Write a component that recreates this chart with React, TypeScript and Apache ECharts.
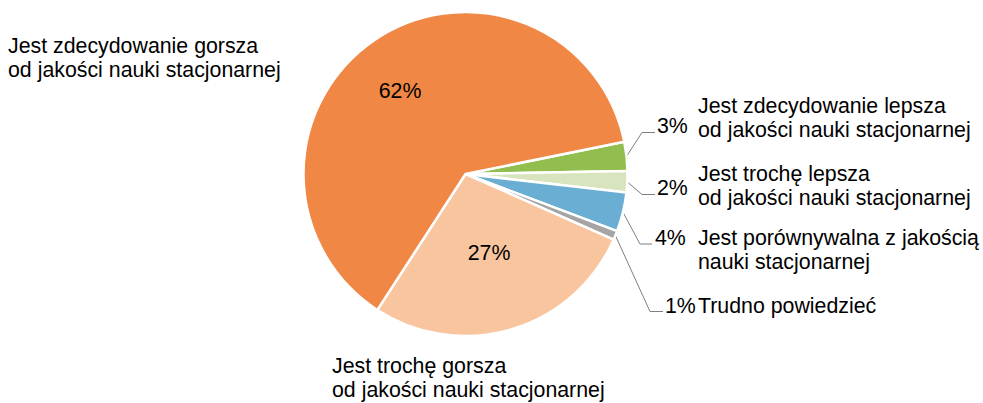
import { useEffect, useRef } from "react";
import * as echarts from "echarts";

// ---- data ----
const categories = [
  "Jest zdecydowanie lepsza\nod jakości nauki stacjonarnej",
  "Jest trochę lepsza\nod jakości nauki stacjonarnej",
  "Jest porównywalna z jakością\nnauki stacjonarnej",
  "Trudno powiedzieć",
  "Jest trochę gorsza\nod jakości nauki stacjonarnej",
  "Jest zdecydowanie gorsza\nod jakości nauki stacjonarnej",
];
const values = [2.9, 2.1, 3.9, 0.9, 27.4, 62.4];

// ---- styles / layout ----
const colors = ["#92BE50", "#D7E4BD", "#6AAED3", "#A5A5A5", "#F9C59F", "#F08744"];
const FONT = "'Liberation Sans', Arial, sans-serif";
const FONT_SIZE = 21.33;
// percentage label anchor: [x, y]  (left/middle for outside, center/middle for inside)
const pctPos = [
  [657, 126],
  [657, 188],
  [655, 238],
  [665, 305.5],
  [489, 252.5],
  [400, 91],
];
// leader line: [elbowX, y, endX]
const leaderPos = [
  [642, 132.5, 655],
  [642, 194.5, 655],
  [640, 244, 652],
  [650, 311.5, 663],
];
// category name text: [left x, vertical middle]
const namePos = [
  [698, 117.5],
  [698, 186],
  [698, 249.5],
  [698, 305.5],
  [332, 378],
  [8, 58],
];
const insideIdx = [4, 5];

export default function App() {
  const ref = useRef<HTMLDivElement>(null);

  useEffect(() => {
    if (!ref.current) return;
    const chart = echarts.init(ref.current, undefined, { renderer: "svg" });
    const cx = 465.5;
    const cy = 174;
    const r = 162;
    const startAngle = 11.5;
    const total = values.reduce((a, b) => a + b, 0);

    const midPoint = (i: number) => {
      let acc = 0;
      for (let k = 0; k < i; k++) acc += values[k];
      const mid = startAngle - ((acc + values[i] / 2) / total) * 360;
      const rad = (mid * Math.PI) / 180;
      return [cx + r * Math.cos(rad), cy - r * Math.sin(rad)];
    };

    chart.setOption({
      animation: false,
      backgroundColor: "#ffffff",
      series: [
        {
          type: "pie",
          center: [cx, cy],
          radius: r,
          startAngle,
          clockwise: true,
          avoidLabelOverlap: false,
          silent: true,
          emphasis: { disabled: true },
          itemStyle: { borderColor: "#ffffff", borderWidth: 2.5 },
          label: {
            show: true,
            formatter: (p: any) => Math.round(p.value) + "%",
            fontSize: FONT_SIZE,
            fontFamily: FONT,
            color: "#000000",
          },
          labelLine: {
            show: true,
            length: 10,
            length2: 10,
            lineStyle: { color: "#7F7F7F", width: 1 },
          },
          labelLayout: (p: any) => {
            const i = p.dataIndex;
            const pos = pctPos[i];
            if (insideIdx.includes(i)) {
              return { x: pos[0], y: pos[1], align: "center", verticalAlign: "middle" };
            }
            const lp = leaderPos[i];
            const start =
              p.labelLinePoints && p.labelLinePoints[0] ? p.labelLinePoints[0] : midPoint(i);
            return {
              x: pos[0],
              y: pos[1],
              align: "left",
              verticalAlign: "middle",
              hideOverlap: false,
              labelLinePoints: [start, [lp[0], lp[1]], [lp[2], lp[1]]],
            };
          },
          data: values.map((v, i) => ({
            value: v,
            name: categories[i],
            itemStyle: { color: colors[i] },
            label: { position: insideIdx.includes(i) ? "inside" : "outside" },
            labelLine: { show: !insideIdx.includes(i) },
          })),
        },
      ],
      graphic: namePos.map((pos, i) => ({
        type: "text",
        x: pos[0],
        y: pos[1],
        silent: true,
        style: {
          text: categories[i],
          fontSize: FONT_SIZE,
          fontFamily: FONT,
          fill: "#000000",
          lineHeight: 24,
          align: "left",
          verticalAlign: "middle",
        },
      })),
    });

    return () => chart.dispose();
  }, []);

  return (
    <div
      ref={ref}
      style={{ position: "absolute", left: 0, top: 0, width: 983, height: 403 }}
    />
  );
}
